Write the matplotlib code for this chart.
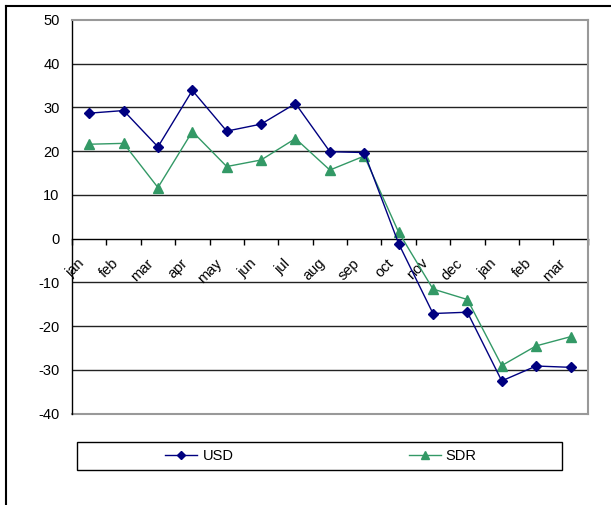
import matplotlib.pyplot as plt
import matplotlib.transforms as mtransforms
from matplotlib.lines import Line2D
from matplotlib.patches import Rectangle

plt.rcParams['font.family'] = ['Liberation Sans', 'DejaVu Sans']
plt.rcParams['axes.unicode_minus'] = False

# Data
months = ['jan', 'feb', 'mar', 'apr', 'may', 'jun', 'jul', 'aug', 'sep',
          'oct', 'nov', 'dec', 'jan', 'feb', 'mar']
usd = [28.7, 29.3, 21.0, 33.9, 24.6, 26.2, 30.9, 19.9, 19.7,
       -1.1, -17.1, -16.8, -32.5, -29.1, -29.4]
sdr = [21.6, 21.8, 11.7, 24.5, 16.5, 18.0, 22.9, 15.7, 18.9,
       1.5, -11.5, -13.9, -29.0, -24.5, -22.4]
y_ticks = [-40, -30, -20, -10, 0, 10, 20, 30, 40, 50]

W, H = 611, 505
fig = plt.figure(figsize=(W / 100, H / 100), dpi=100)
ax = fig.add_axes([72 / W, (H - 413.7) / H, (587.7 - 72) / W, (413.7 - 20) / H])

x = list(range(len(months)))

# gridlines
for v in y_ticks:
    if v in (0, -40, 50):
        continue
    ax.axhline(v, color='#222222', lw=1, zorder=1)

ax.plot(x, usd, color='#000080', lw=1, marker='D', ms=5, label='USD', zorder=4)
ax.plot(x, sdr, color='#339966', lw=1, marker='^', ms=7, label='SDR', zorder=3)

ax.set_xlim(-0.5, len(months) - 0.5)
ax.set_ylim(-40, 50)

# plot area border (grey) on top/right/bottom, black left axis
for s in ('top', 'right'):
    ax.spines[s].set_color('#999999')
    ax.spines[s].set_linewidth(1.5)
ax.spines['left'].set_color('black')
ax.spines['left'].set_linewidth(1)
ax.axhline(-40, color='#999999', lw=1.5, clip_on=False, zorder=2)

# category axis crosses at zero
ax.spines['bottom'].set_position(('data', 0))
ax.spines['bottom'].set_color('black')
ax.spines['bottom'].set_linewidth(1)
ax.spines['bottom'].set_zorder(2)

ax.set_yticks(y_ticks)
ax.tick_params(axis='y', length=0, pad=9, labelsize=10.5)

ax.set_xticks([i - 0.5 for i in range(len(months) + 1)], minor=True)
ax.tick_params(axis='x', which='minor', length=4, direction='out', width=1)
ax.set_xticks(x)
ax.set_xticklabels(months, rotation=45, ha='right', va='center',
                   rotation_mode='anchor', fontsize=10.5)
ax.tick_params(axis='x', which='major', length=0, pad=16)
shift = mtransforms.ScaledTranslation(-7 / 100, 0, fig.dpi_scale_trans)
for lbl in ax.get_xticklabels():
    lbl.set_transform(lbl.get_transform() + shift)

# legend with its own frame
fig.add_artist(Rectangle((76.7 / W, (H - 470.3) / H), (562.3 - 76.7) / W, 28 / H,
                         transform=fig.transFigure, fill=False,
                         edgecolor='black', lw=1))
leg = fig.legend(loc='center', bbox_to_anchor=(321 / W, (H - 456.3) / H), ncol=2,
                 frameon=False, fontsize=10.5, handlelength=2.2, handletextpad=0.35,
                 columnspacing=12.0, borderaxespad=0, markerscale=0.8)

# outer chart border (left and top edges visible)
fig.add_artist(Line2D([6 / W, 6 / W], [0, (H - 5.5) / H], transform=fig.transFigure,
                      color='black', lw=1.5))
fig.add_artist(Line2D([6 / W, 1], [(H - 5.5) / H, (H - 5.5) / H],
                      transform=fig.transFigure, color='black', lw=1.5))

fig.savefig('out.png', dpi=100)
plt.close(fig)
